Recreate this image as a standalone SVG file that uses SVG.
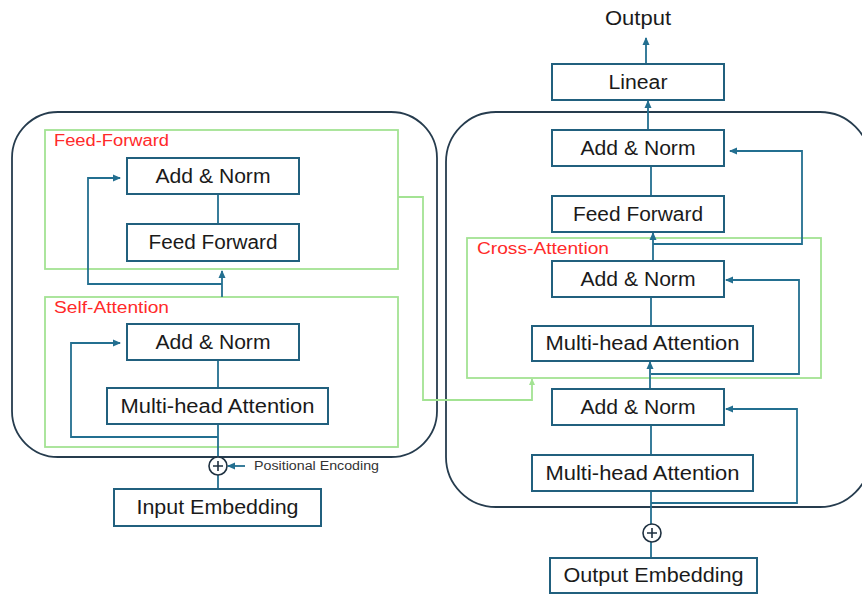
<svg xmlns="http://www.w3.org/2000/svg" width="862" height="595" viewBox="0 0 862 595">
<defs>
<style>
.panel{fill:none;stroke:#263c4e;stroke-width:1.8}
.grp{fill:none;stroke:#a3e393;stroke-width:1.8}
.box{fill:#fff;stroke:#21607e;stroke-width:2}
.t{font-family:"Liberation Sans",Arial,sans-serif;font-size:20px;fill:#1a1a1a;text-anchor:middle}
.lbl{font-family:"Liberation Sans",Arial,sans-serif;font-size:16px;fill:#ff2a2a}
.small{font-family:"Liberation Sans",Arial,sans-serif;font-size:12.5px;fill:#333}
.c{fill:none;stroke:#236f90;stroke-width:1.8}
.a{fill:none;stroke:#236f90;stroke-width:1.8;marker-end:url(#ah)}
.g{fill:none;stroke:#a3e393;stroke-width:1.8;marker-end:url(#gh)}
.plus{fill:#fff;stroke:#1e3040;stroke-width:1.6}
</style>
<marker id="ah" viewBox="0 0 8 8" refX="7" refY="4" markerWidth="8" markerHeight="8" markerUnits="userSpaceOnUse" orient="auto"><path d="M0,0.5 L8,4 L0,7.5 z" fill="#236f90"/></marker>
<marker id="gh" viewBox="0 0 8 8" refX="7" refY="4" markerWidth="7" markerHeight="7" markerUnits="userSpaceOnUse" orient="auto"><path d="M0,0.5 L8,4 L0,7.5 z" fill="#a3e393"/></marker>
</defs>
<rect width="862" height="595" fill="#fff"/>

<!-- panels -->
<rect class="panel" x="12" y="112" width="425" height="345" rx="46"/>
<rect class="panel" x="446" y="112" width="424" height="395" rx="50"/>

<!-- group frames -->
<g id="feed-forward-group">
<rect class="grp" x="45" y="130" width="353" height="139"/>
<text class="lbl" x="54" y="146" textLength="115" lengthAdjust="spacingAndGlyphs">Feed-Forward</text>
</g>
<g id="self-attention-group">
<rect class="grp" x="45" y="297" width="353" height="150"/>
<text class="lbl" x="54" y="313" textLength="115" lengthAdjust="spacingAndGlyphs">Self-Attention</text>
</g>
<g id="cross-attention-group">
<rect class="grp" x="467" y="238" width="354" height="140"/>
<text class="lbl" x="477" y="254" textLength="132" lengthAdjust="spacingAndGlyphs">Cross-Attention</text>
</g>

<!-- connectors -->
<g id="connectors">
<!-- left -->
<line class="c" x1="218" y1="489" x2="218" y2="475"/>
<line class="c" x1="218" y1="457" x2="218" y2="424"/>
<path class="a" d="M218,437 H71 V343 H120"/>
<line class="c" x1="218" y1="388" x2="218" y2="360"/>
<line class="a" x1="222" y1="297" x2="222" y2="271"/>
<path class="a" d="M222,284 H88 V178 H120"/>
<line class="c" x1="218" y1="194" x2="218" y2="224"/>
<line class="a" x1="245" y1="466" x2="228" y2="466"/>
<!-- encoder to cross attention -->
<path class="g" d="M398,197 H423 V400 H532 V379"/>
<!-- right -->
<line class="c" x1="651" y1="558" x2="651" y2="542"/>
<line class="c" x1="651" y1="524" x2="651" y2="491"/>
<path class="a" d="M651,503 H797 V409 H726"/>
<line class="c" x1="651" y1="455" x2="651" y2="425"/>
<line class="a" x1="650" y1="389" x2="650" y2="362"/>
<path class="a" d="M651,374 H799 V280 H726"/>
<line class="c" x1="651" y1="326" x2="651" y2="297"/>
<line class="a" x1="653" y1="261" x2="653" y2="233"/>
<path class="a" d="M653,244 H802 V151 H730"/>
<line class="c" x1="651" y1="196" x2="651" y2="166"/>
<line class="a" x1="648" y1="130" x2="648" y2="101"/>
<line class="a" x1="646" y1="64" x2="646" y2="38"/>
</g>

<!-- encoder nodes -->
<g id="enc-ff-addnorm"><rect class="box" x="127" y="158" width="172" height="36"/><text class="t" x="213" y="183" textLength="115" lengthAdjust="spacingAndGlyphs">Add &amp; Norm</text></g>
<g id="enc-ff"><rect class="box" x="127" y="224" width="172" height="37"/><text class="t" x="213" y="249" textLength="129" lengthAdjust="spacingAndGlyphs">Feed Forward</text></g>
<g id="enc-sa-addnorm"><rect class="box" x="127" y="324" width="172" height="36"/><text class="t" x="213" y="349" textLength="115" lengthAdjust="spacingAndGlyphs">Add &amp; Norm</text></g>
<g id="enc-mha"><rect class="box" x="107" y="388" width="221" height="36"/><text class="t" x="217.5" y="413" textLength="194" lengthAdjust="spacingAndGlyphs">Multi-head Attention</text></g>
<g id="enc-plus"><circle class="plus" cx="218" cy="466" r="9"/><path d="M213,466 H223 M218,461 V471" stroke="#1e3040" stroke-width="1.6"/></g>
<g id="pos-enc"><text class="small" x="254" y="470" textLength="125" lengthAdjust="spacingAndGlyphs">Positional Encoding</text></g>
<g id="input-embedding"><rect class="box" x="114" y="489" width="207" height="37"/><text class="t" x="217.5" y="514" textLength="162" lengthAdjust="spacingAndGlyphs">Input Embedding</text></g>

<!-- decoder nodes -->
<g id="output-label"><text class="t" x="638" y="25" textLength="66" lengthAdjust="spacingAndGlyphs">Output</text></g>
<g id="linear"><rect class="box" x="552" y="64" width="172" height="36"/><text class="t" x="638" y="89" textLength="59" lengthAdjust="spacingAndGlyphs">Linear</text></g>
<g id="dec-addnorm-top"><rect class="box" x="552" y="130" width="172" height="36"/><text class="t" x="638" y="155" textLength="115" lengthAdjust="spacingAndGlyphs">Add &amp; Norm</text></g>
<g id="dec-ff"><rect class="box" x="552" y="196" width="172" height="36"/><text class="t" x="638" y="221" textLength="130" lengthAdjust="spacingAndGlyphs">Feed Forward</text></g>
<g id="dec-cross-addnorm"><rect class="box" x="552" y="261" width="172" height="36"/><text class="t" x="638" y="286" textLength="115" lengthAdjust="spacingAndGlyphs">Add &amp; Norm</text></g>
<g id="dec-cross-mha"><rect class="box" x="532" y="326" width="221" height="35"/><text class="t" x="642.5" y="350" textLength="194" lengthAdjust="spacingAndGlyphs">Multi-head Attention</text></g>
<g id="dec-addnorm-low"><rect class="box" x="552" y="389" width="172" height="36"/><text class="t" x="638" y="414" textLength="115" lengthAdjust="spacingAndGlyphs">Add &amp; Norm</text></g>
<g id="dec-mha"><rect class="box" x="532" y="455" width="221" height="36"/><text class="t" x="642.5" y="480" textLength="194" lengthAdjust="spacingAndGlyphs">Multi-head Attention</text></g>
<g id="dec-plus"><circle class="plus" cx="652" cy="533" r="9"/><path d="M647,533 H657 M652,528 V538" stroke="#1e3040" stroke-width="1.6"/></g>
<g id="output-embedding"><rect class="box" x="550" y="558" width="207" height="35"/><text class="t" x="653.5" y="582" textLength="180" lengthAdjust="spacingAndGlyphs">Output Embedding</text></g>
</svg>
